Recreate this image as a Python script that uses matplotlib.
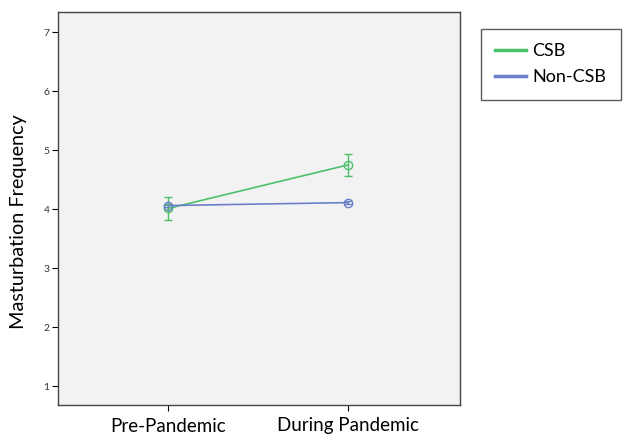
import matplotlib
matplotlib.use('Agg')
import matplotlib.pyplot as plt
from matplotlib.lines import Line2D
import numpy as np

labels = ['Pre-Pandemic', 'During Pandemic']
csb = [4.01, 4.75]
csb_err = [0.20, 0.19]
non_csb = [4.06, 4.11]
non_csb_err = [0.03, 0.03]

green = '#4cc06a'
blue = '#6a7fc8'

plt.rcParams['font.family'] = ['Lato', 'DejaVu Sans']

x = np.arange(len(labels))

fig = plt.figure(figsize=(6.24, 4.38), dpi=100)
ax = fig.add_axes([58/624, 1 - 405/438, 402/624, 393/438])
ax.set_facecolor('#f2f2f2')

ax.errorbar(x, csb, yerr=csb_err, color=green, lw=1.2, marker='o', ms=6,
            mfc='none', mec=green, mew=1.0, capsize=3, elinewidth=1.0, label='CSB')
ax.errorbar(x, non_csb, yerr=non_csb_err, color=blue, lw=1.2, marker='o', ms=6,
            mfc='none', mec=blue, mew=1.0, capsize=3, elinewidth=1.0, label='Non-CSB')

ax.set_xlim(-0.61, 1.62)
ax.set_ylim(0.68, 7.34)
ax.set_xticks(x)
ax.set_xticklabels(labels, fontsize=13.5)
ax.set_yticks(range(1, 8))
ax.tick_params(axis='y', labelsize=7.5, length=4, width=0.8, pad=2, labelcolor='#333333')
ax.tick_params(axis='x', length=4, width=0.8, pad=5)
for s in ax.spines.values():
    s.set_color('#444444')
    s.set_linewidth(1.0)
ax.set_ylabel('Masturbation Frequency', fontsize=14.3)
ax.yaxis.set_label_coords(-0.077, 0.466)

h = [Line2D([], [], color=green, lw=2.5), Line2D([], [], color=blue, lw=2.5)]
leg = fig.legend(h, ['CSB', 'Non-CSB'], loc='upper left',
                 bbox_to_anchor=(481/624, 1 - 29/438), fontsize=13,
                 frameon=True, fancybox=False, edgecolor='#333333',
                 handlelength=1.7, handletextpad=0.35, borderpad=0.8,
                 labelspacing=0.55, borderaxespad=0)
leg.get_frame().set_linewidth(1.0)

fig.savefig('out.png', dpi=100)
